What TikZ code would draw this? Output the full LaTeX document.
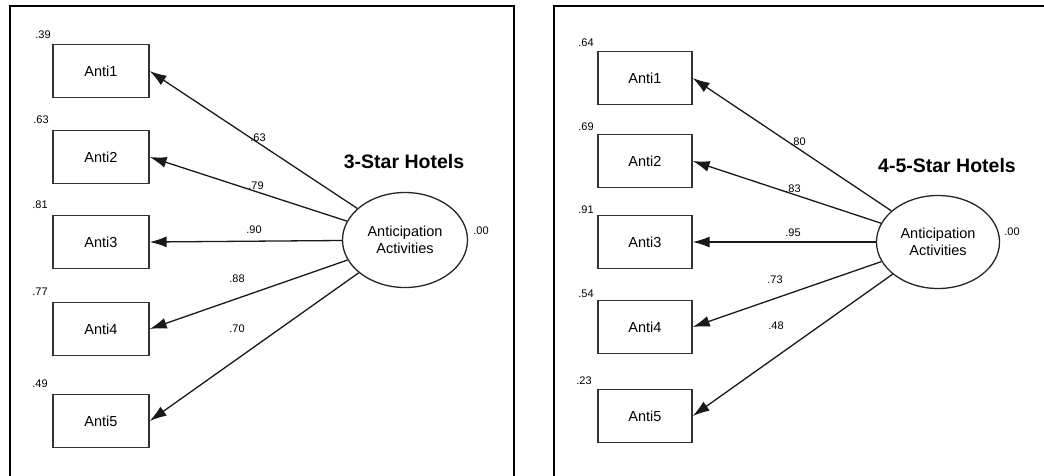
\documentclass[tikz,border=0pt]{standalone}
\usepackage{fontspec}
\setmainfont{Liberation Sans}
\usetikzlibrary{shapes.geometric,arrows.meta}
\begin{document}
\begin{tikzpicture}[x=1pt,y=-1pt,
  obs/.style={draw=black!80, line width=1.3pt, minimum width=96pt, minimum height=53pt, inner sep=0pt, font=\fontsize{14.5}{16}\selectfont},
  lat/.style={ellipse, draw=black!85, line width=1.3pt, minimum width=125pt, minimum height=95pt, inner sep=0pt, align=center, font=\fontsize{14.5}{17}\selectfont},
  num/.style={font=\fontsize{11}{13}\selectfont, inner sep=0pt},
  ttl/.style={font=\bfseries\fontsize{19.5}{22}\selectfont, inner sep=0pt},
  load/.style={-{Latex[length=17pt,width=11pt]}, line width=1.3pt, draw=black!90},
  panel/.style={line width=2.5pt}]
\useasboundingbox (0,0) rectangle (1044,475);
% panel frames
\coordinate (pLa) at (10,476);
\coordinate (pLb) at (10,6);
\coordinate (pLc) at (514,6);
\coordinate (pLd) at (514,476);
\draw[panel] (pLa) -- (pLb) -- (pLc) -- (pLd);
\coordinate (pRa) at (554,476);
\coordinate (pRb) at (554,6);
\coordinate (pRc) at (1046,6);
\draw[panel] (pRa) -- (pRb) -- (pRc);

% ---------- left panel ----------
\node[obs] (L1) at (101,71) {Anti1};
\node[obs] (L2) at (101,157) {Anti2};
\node[obs] (L3) at (101,242) {Anti3};
\node[obs] (L4) at (101,329) {Anti4};
\node[obs] (L5) at (101,421) {Anti5};
\node[lat] (LF) at (405,240) {Anticipation\\Activities};
\node[ttl] (LT) at (404,162) {3-Star Hotels};
\node[num] (Le1) at (43,35) {.39};
\node[num] (Le2) at (41,120) {.63};
\node[num] (Le3) at (40,205) {.81};
\node[num] (Le4) at (40,292) {.77};
\node[num] (Le5) at (40,384) {.49};
\node[num] (LFv) at (481,231) {.00};
\draw[load] (LF) -- (L1.east);
\draw[load] (LF) -- (L2.east);
\draw[load] (LF) -- (L3.east);
\draw[load] (LF) -- (L4.east);
\draw[load] (LF) -- (L5.east);
\node[num] (Ll1) at (258,138) {.63};
\node[num] (Ll2) at (256,186) {.79};
\node[num] (Ll3) at (254,230) {.90};
\node[num] (Ll4) at (237,279) {.88};
\node[num] (Ll5) at (237,329) {.70};

% ---------- right panel ----------
\node[obs, minimum width=94pt] (R1) at (645,78) {Anti1};
\node[obs, minimum width=94pt] (R2) at (645,161) {Anti2};
\node[obs, minimum width=94pt] (R3) at (645,242) {Anti3};
\node[obs, minimum width=94pt] (R4) at (645,327) {Anti4};
\node[obs, minimum width=94pt] (R5) at (645,416) {Anti5};
\node[lat, minimum width=123pt, minimum height=93pt] (RF) at (938,242) {Anticipation\\Activities};
\node[ttl] (RT) at (947,166) {4-5-Star Hotels};
\node[num] (Re1) at (586,43) {.64};
\node[num] (Re2) at (586,127) {.69};
\node[num] (Re3) at (586,210) {.91};
\node[num] (Re4) at (586,294) {.54};
\node[num] (Re5) at (584,381) {.23};
\node[num] (RFv) at (1012,232) {.00};
\draw[load] (RF) -- (R1.east);
\draw[load] (RF) -- (R2.east);
\draw[load] (RF) -- (R3.east);
\draw[load] (RF) -- (R4.east);
\draw[load] (RF) -- (R5.east);
\node[num] (Rl1) at (798,142) {.80};
\node[num] (Rl2) at (793,189) {.83};
\node[num] (Rl3) at (793,233) {.95};
\node[num] (Rl4) at (775,280) {.73};
\node[num] (Rl5) at (776,326) {.48};
\end{tikzpicture}
\end{document}
